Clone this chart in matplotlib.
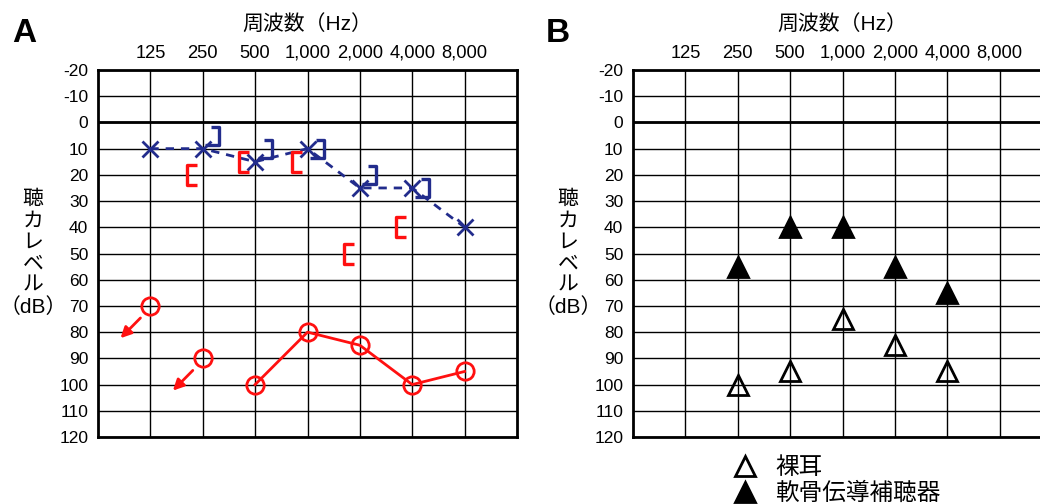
import numpy as np
import matplotlib
matplotlib.use("Agg")
import matplotlib.pyplot as plt
from matplotlib.path import Path

plt.rcParams['font.family'] = ['Liberation Sans', 'Noto Sans CJK JP', 'DejaVu Sans']
plt.rcParams['axes.unicode_minus'] = False

# 周波数と聴力レベルのデータ
FREQS = ["125", "250", "500", "1,000", "2,000", "4,000", "8,000"]
DB_TICKS = list(range(-20, 121, 10))

# A: オージオグラム
RIGHT_AIR = [70, 90, 100, 80, 85, 100, 95]      # 赤 O
RIGHT_AIR_SCALEOUT = [True, True, False, False, False, False, False]
LEFT_AIR = [10, 10, 15, 10, 25, 25, 40]          # 青 X
RIGHT_BONE_F = [2, 3, 4, 5, 6]                   # 赤 [ の周波数番号
RIGHT_BONE = [20, 15, 15, 50, 40]
LEFT_BONE_F = [2, 3, 4, 5, 6]                    # 青 ] の周波数番号
LEFT_BONE = [5, 10, 10, 20, 25]

# B: 裸耳と軟骨伝導補聴器
B_FREQ = [2, 3, 4, 5, 6]
BARE_EAR = [100, 95, 75, 85, 95]
CC_HEARING_AID = [55, 40, 40, 55, 65]

RED = "#ff1010"
BLUE = "#222c8c"

# 括弧マーカー
bracket_l = Path([(0.5, 1), (-0.5, 1), (-0.5, -1), (0.5, -1)],
                 [Path.MOVETO, Path.LINETO, Path.LINETO, Path.LINETO])
bracket_r = Path([(-0.5, 1), (0.5, 1), (0.5, -1), (-1.1, -1)],
                 [Path.MOVETO, Path.LINETO, Path.LINETO, Path.LINETO])


def setup(ax):
    ax.set_xlim(0, 8)
    ax.set_ylim(120, -20)
    ax.set_xticks(range(1, 8))
    ax.set_xticklabels(FREQS)
    ax.set_yticks(DB_TICKS)
    ax.xaxis.tick_top()
    ax.tick_params(length=0, labelsize=12.5, colors="black")
    ax.tick_params(axis="x", pad=6, labelsize=13.2)
    ax.tick_params(axis="y", pad=7)
    ax.grid(True, color="black", lw=1)
    ax.axhline(0, color="black", lw=2)
    for s in ax.spines.values():
        s.set_linewidth(2)
    ax.set_axisbelow(True)
    ax.text(0.5, 1.125, "周波数（Hz）", transform=ax.transAxes, ha="center",
            va="center", fontsize=15)
    ax.text(-0.155, 0.5, "\n".join(["聴", "カ", "レ", "ベ", "ル", "（dB）"]),
            transform=ax.transAxes, ha="center", va="center", fontsize=15,
            linespacing=1.15)


fig = plt.figure(figsize=(10.4, 5.04), dpi=100)
ax_a = fig.add_axes([98 / 1040, 1 - 437 / 504, 419 / 1040, 367 / 504])
ax_b = fig.add_axes([633 / 1040, 1 - 437 / 504, 419 / 1040, 367 / 504])
setup(ax_a)
setup(ax_b)

x = np.arange(1, 8)

# 左耳 気導
ax_a.plot(x, LEFT_AIR, color=BLUE, lw=2, ls=(0, (3, 2.5)), marker="x",
          ms=11, mew=2, zorder=4)
# 右耳 気導
ra = np.array(RIGHT_AIR, dtype=float)
so = np.array(RIGHT_AIR_SCALEOUT)
ax_a.plot(x[~so], ra[~so], color=RED, lw=2, marker="o", ms=12.5, mew=2,
          mfc="none", zorder=4)
ax_a.plot(x[so], ra[so], ls="none", color=RED, marker="o", ms=12.5, mew=2,
          mfc="none", zorder=4)
for xi, yi in zip(x[so], ra[so]):
    ax_a.annotate("", xy=(xi - 0.57, yi + 12.3), xytext=(xi - 0.19, yi + 4.6),
                  arrowprops=dict(arrowstyle="-|>", color=RED, lw=2,
                                  mutation_scale=16, shrinkA=0, shrinkB=0))
# 骨導
ax_a.plot(np.array(RIGHT_BONE_F) - 0.21, RIGHT_BONE, ls="none", color=RED,
          marker=bracket_l, ms=14, mew=2.4, mfc="none", zorder=5)
ax_a.plot(np.array(LEFT_BONE_F) + 0.24, LEFT_BONE, ls="none", color=BLUE,
          marker=bracket_r, ms=14, mew=2.4, mfc="none", zorder=5)

# B
ax_b.plot(B_FREQ, BARE_EAR, ls="none", color="black", marker="^", ms=14,
          mew=2, mfc="none", label="裸耳", zorder=4)
ax_b.plot(B_FREQ, CC_HEARING_AID, ls="none", color="black", marker="^",
          ms=14, mew=2, label="軟骨伝導補聴器", zorder=4)
fig.legend(loc="upper left", bbox_to_anchor=(733 / 1040, 1 - 457 / 504),
           frameon=False, fontsize=17, handlelength=1.0, handletextpad=0.8,
           labelspacing=0.15, borderpad=0, borderaxespad=0)

fig.text(24 / 1040, 1 - 33 / 504, "A", fontsize=24, fontweight="bold",
         ha="center", va="center")
fig.text(558 / 1040, 1 - 33 / 504, "B", fontsize=24, fontweight="bold",
         ha="center", va="center")

fig.savefig("out.png", dpi=100)
